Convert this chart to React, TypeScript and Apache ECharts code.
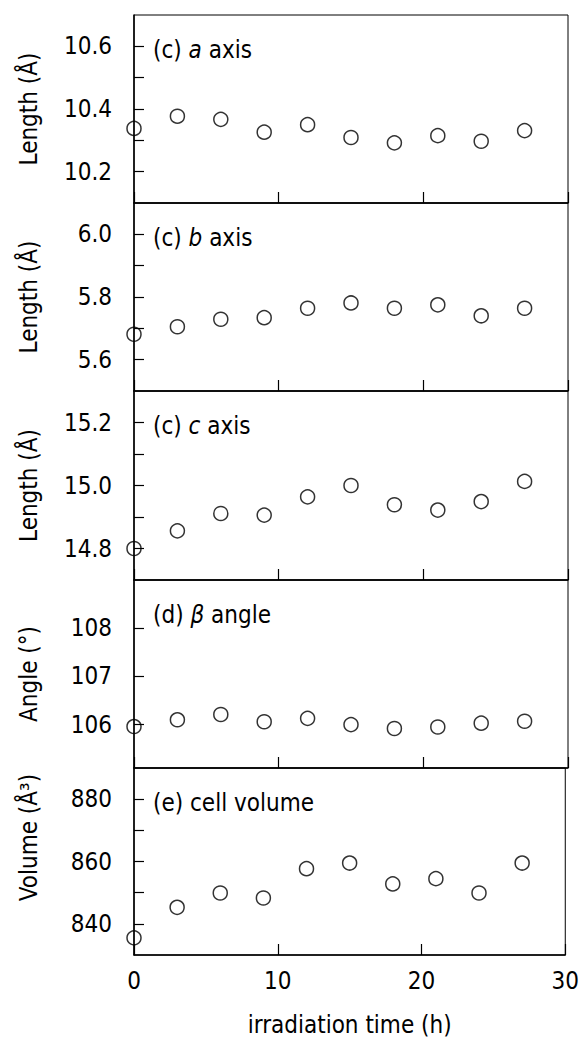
import React, { useEffect, useRef } from "react";
import * as echarts from "echarts";

const times = [0, 3, 6, 9, 12, 15, 18, 21, 24, 27];
const aAxis = [10.338, 10.377, 10.367, 10.326, 10.35, 10.309, 10.292, 10.315, 10.297, 10.331];
const bAxis = [5.681, 5.705, 5.729, 5.734, 5.764, 5.781, 5.764, 5.775, 5.74, 5.764];
const cAxis = [14.8, 14.856, 14.911, 14.906, 14.964, 15.0, 14.939, 14.922, 14.949, 15.013];
const beta = [105.96, 106.1, 106.21, 106.06, 106.13, 106.0, 105.92, 105.95, 106.03, 106.07];
const volume = [835.5, 845.3, 849.9, 848.3, 857.7, 859.5, 852.8, 854.5, 849.9, 859.5];

const xTicks = [0, 10, 20, 30];

const panelLabels = [
  "(c) {i|a} axis",
  "(c) {i|b} axis",
  "(c) {i|c} axis",
  "(d) {i|\u03b2} angle",
  "(e) cell volume",
];
const yNames = ["Length (\u00c5)", "Length (\u00c5)", "Length (\u00c5)", "Angle (\u00b0)", "Volume (\u00c5\u00b3)"];
const yMajor = [
  [10.2, 10.4, 10.6],
  [5.6, 5.8, 6.0],
  [14.8, 15.0, 15.2],
  [106, 107, 108],
  [840, 860, 880],
];
const yMinor = [
  [10.3, 10.5],
  [5.7, 5.9],
  [14.9, 15.1],
  [],
  [850, 870],
];
const yRange = [
  [10.1, 10.7],
  [5.5, 6.1],
  [14.7, 15.3],
  [105.1, 109],
  [830, 890],
];
const yDecimals = [1, 1, 1, 0, 0];
const seriesData = [aAxis, bAxis, cAxis, beta, volume];

const FONT = "'Liberation Sans Narrow', 'DejaVu Sans Condensed', 'Liberation Sans', sans-serif";
const FS = 24;

export default function App() {
  const ref = useRef<HTMLDivElement>(null);
  useEffect(() => {
    document.body.style.margin = "0";
    const chart = echarts.init(ref.current!, null, { renderer: "svg" });
    const tops = [15, 203, 391, 580, 768];
    const heights = [188, 188, 189, 188, 187];
    const grids = tops.map((t, i) => ({
      left: 134,
      right: 14,
      top: t,
      height: heights[i],
      show: true,
      borderColor: "#000",
      borderWidth: 1,
      backgroundColor: "transparent",
    }));
    const xAxes = tops.map((_, i) => ({
      type: "value",
      gridIndex: i,
      min: 0,
      max: 30,
      interval: 10,
      axisLine: { show: true, lineStyle: { color: "#000", width: 1.5 } },
      axisTick: { show: true, inside: true, length: 11, lineStyle: { color: "#000", width: 1.2 } },
      axisLabel: {
        show: i === 4,
        margin: 14,
        color: "#000",
        fontFamily: FONT,
        fontSize: FS,
        customValues: xTicks,
      },
      splitLine: { show: false },
      name: i === 4 ? "irradiation time (h)" : "",
      nameLocation: "middle",
      nameGap: 58,
      nameTextStyle: { color: "#000", fontFamily: FONT, fontSize: FS },
    }));
    const yAxes = tops.map((_, i) => ({
      type: "value",
      gridIndex: i,
      min: yRange[i][0],
      max: yRange[i][1],
      axisLine: { show: true, lineStyle: { color: "#000", width: 1.5 } },
      axisTick: {
        show: true,
        inside: true,
        length: 10,
        customValues: [...yMajor[i], ...yMinor[i]],
        lineStyle: { color: "#000", width: 1.2 },
      },
      axisLabel: {
        margin: 22,
        color: "#000",
        fontFamily: FONT,
        fontSize: FS,
        customValues: yMajor[i],
        formatter: (v: number) => v.toFixed(yDecimals[i]),
      },
      splitLine: { show: false },
      name: yNames[i],
      nameLocation: "middle",
      nameGap: 93,
      nameTextStyle: {
        color: "#000",
        fontFamily: FONT,
        fontSize: FS,
        padding: i === 4 ? [0, 0, 0, 48] : 0,
      },
    }));
    const series = seriesData.map((d, i) => ({
      type: "scatter",
      xAxisIndex: i,
      yAxisIndex: i,
      data: times.map((t, k) => [t, d[k]]),
      symbol: "circle",
      symbolSize: 14,
      clip: false,
      itemStyle: { color: "rgba(0,0,0,0)", borderColor: "#000", borderWidth: 1.5 },
      emphasis: { disabled: true },
    }));
    const graphics = tops.map((t, i) => ({
      type: "text",
      left: 153,
      top: t + 23,
      style: {
        text: panelLabels[i],
        fill: "#000",
        fontFamily: FONT,
        fontSize: FS,
        rich: {
          i: { fontStyle: "italic", fontFamily: FONT, fontSize: FS, fill: "#000" },
        },
      },
    }));
    chart.setOption({
      animation: false,
      backgroundColor: "#fff",
      grid: grids,
      xAxis: xAxes,
      yAxis: yAxes,
      series,
      graphic: graphics,
    });
    return () => chart.dispose();
  }, []);
  return <div ref={ref} style={{ width: 582, height: 1041 }} />;
}
